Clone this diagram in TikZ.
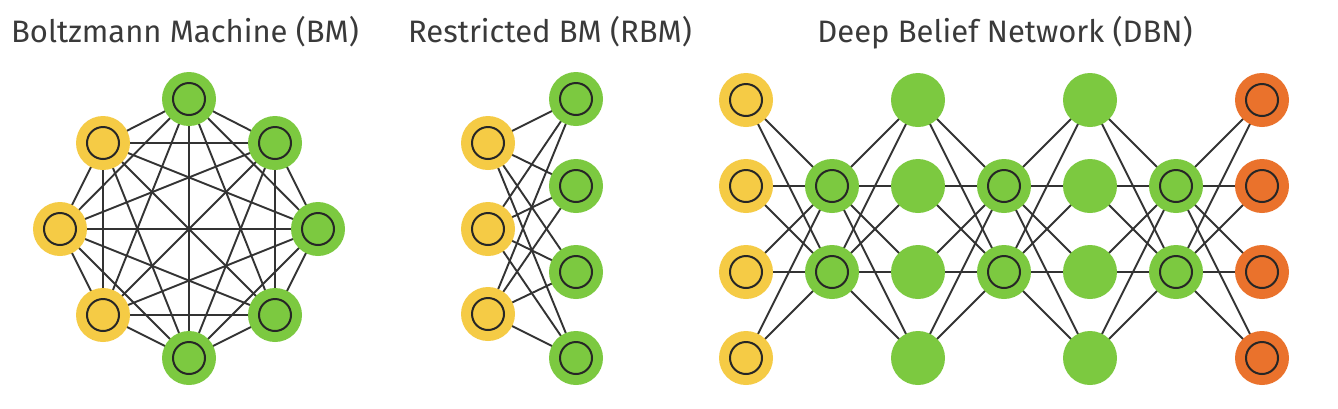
\documentclass[tikz,border=0pt]{standalone}
\usepackage{fontspec}
\setmainfont{Fira Sans}
\usetikzlibrary{backgrounds}
\definecolor{cy}{HTML}{F5CB45}
\definecolor{cg}{HTML}{7CC940}
\definecolor{co}{HTML}{EA722C}
\definecolor{ct}{HTML}{3A3A3A}
\begin{document}
\begin{tikzpicture}[x=1pt,y=-1pt,
  unit/.style={circle,minimum size=54pt,inner sep=0pt,draw=none},
  ring/.style={path picture={\draw[line width=2pt,black!85] (path picture bounding box.center) circle (16pt);}},
  vis/.style={unit,fill=cy,ring},
  hid/.style={unit,fill=cg,ring},
  hidp/.style={unit,fill=cg},
  outu/.style={unit,fill=co,ring},
  edge/.style={line width=1.9pt,black!80},
  title/.style={font=\fontsize{31}{34}\selectfont,text=ct,anchor=base,inner sep=0pt}]
\useasboundingbox (0,0) rectangle (1338,408);
% titles
\node[title] (t1) at (185,42) {Boltzmann Machine (BM)};
\node[title] (t2) at (550,42) {Restricted BM (RBM)};
\node[title] (t3) at (1005,42) {Deep Belief Network (DBN)};
% BM
\node[hid] (b1) at (189,99) {};
\node[hid] (b2) at (275,143) {};
\node[hid] (b3) at (318,229) {};
\node[hid] (b4) at (275,315) {};
\node[hid] (b5) at (189,358) {};
\node[vis] (b6) at (103,315) {};
\node[vis] (b7) at (60,229) {};
\node[vis] (b8) at (103,143) {};
% RBM
\node[vis] (ry1) at (488,143) {};
\node[vis] (ry2) at (488,229) {};
\node[vis] (ry3) at (488,314) {};
\node[hid] (rg1) at (576,99) {};
\node[hid] (rg2) at (576,186) {};
\node[hid] (rg3) at (576,272) {};
\node[hid] (rg4) at (576,358) {};
% DBN
\foreach \r/\y in {1/100,2/186,3/272,4/358} {
  \node[vis]  (d1r\r) at (746,\y) {};
  \node[hidp] (d3r\r) at (918,\y) {};
  \node[hidp] (d5r\r) at (1090,\y) {};
  \node[outu] (d7r\r) at (1262,\y) {};
}
\foreach \r/\y in {2/186,3/272} {
  \node[hid] (d2r\r) at (832,\y) {};
  \node[hid] (d4r\r) at (1004,\y) {};
  \node[hid] (d6r\r) at (1176,\y) {};
}
\begin{pgfonlayer}{background}
  \fill[white] (0,0) rectangle (1338,408);
  \foreach \i in {1,...,7} {
    \pgfmathtruncatemacro\k{\i+1}
    \foreach \j in {\k,...,8} {\draw[edge] (b\i.center) -- (b\j.center);}
  }
  \foreach \a in {1,2,3} \foreach \b in {1,2,3,4} {\draw[edge] (ry\a.center) -- (rg\b.center);}
  \foreach \a in {1,2,3,4} \foreach \b in {2,3} {
    \draw[edge] (d1r\a.center) -- (d2r\b.center);
    \draw[edge] (d2r\b.center) -- (d3r\a.center);
    \draw[edge] (d3r\a.center) -- (d4r\b.center);
    \draw[edge] (d4r\b.center) -- (d5r\a.center);
    \draw[edge] (d5r\a.center) -- (d6r\b.center);
    \draw[edge] (d6r\b.center) -- (d7r\a.center);
  }
\end{pgfonlayer}
\end{tikzpicture}
\end{document}
